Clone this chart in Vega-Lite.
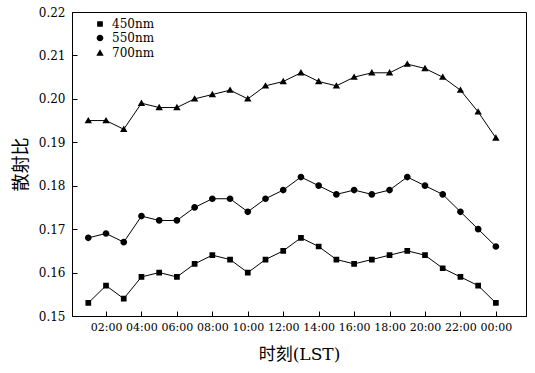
{
  "$schema": "https://vega.github.io/schema/vega-lite/v6.json",
  "width": 454,
  "height": 304,
  "autosize": "none",
  "padding": {"left": 72, "top": 12, "right": 9, "bottom": 57},
  "background": "white",
  "config": {
    "view": {"stroke": "black", "strokeWidth": 1},
    "axis": {
      "grid": false,
      "domainColor": "black",
      "tickColor": "black",
      "labelColor": "black",
      "titleColor": "black",
      "labelFont": "DejaVu Serif",
      "labelFontSize": 12,
      "labelOverlap": false,
      "tickSize": -5,
      "titleFontWeight": "normal",
      "titleFontSize": 18
    }
  },
  "data": {
    "values": [
      {"hour": 1, "band": "450nm", "ratio": 0.153}, {"hour": 2, "band": "450nm", "ratio": 0.157},
      {"hour": 3, "band": "450nm", "ratio": 0.154}, {"hour": 4, "band": "450nm", "ratio": 0.159},
      {"hour": 5, "band": "450nm", "ratio": 0.160}, {"hour": 6, "band": "450nm", "ratio": 0.159},
      {"hour": 7, "band": "450nm", "ratio": 0.162}, {"hour": 8, "band": "450nm", "ratio": 0.164},
      {"hour": 9, "band": "450nm", "ratio": 0.163}, {"hour": 10, "band": "450nm", "ratio": 0.160},
      {"hour": 11, "band": "450nm", "ratio": 0.163}, {"hour": 12, "band": "450nm", "ratio": 0.165},
      {"hour": 13, "band": "450nm", "ratio": 0.168}, {"hour": 14, "band": "450nm", "ratio": 0.166},
      {"hour": 15, "band": "450nm", "ratio": 0.163}, {"hour": 16, "band": "450nm", "ratio": 0.162},
      {"hour": 17, "band": "450nm", "ratio": 0.163}, {"hour": 18, "band": "450nm", "ratio": 0.164},
      {"hour": 19, "band": "450nm", "ratio": 0.165}, {"hour": 20, "band": "450nm", "ratio": 0.164},
      {"hour": 21, "band": "450nm", "ratio": 0.161}, {"hour": 22, "band": "450nm", "ratio": 0.159},
      {"hour": 23, "band": "450nm", "ratio": 0.157}, {"hour": 24, "band": "450nm", "ratio": 0.153},
      {"hour": 1, "band": "550nm", "ratio": 0.168}, {"hour": 2, "band": "550nm", "ratio": 0.169},
      {"hour": 3, "band": "550nm", "ratio": 0.167}, {"hour": 4, "band": "550nm", "ratio": 0.173},
      {"hour": 5, "band": "550nm", "ratio": 0.172}, {"hour": 6, "band": "550nm", "ratio": 0.172},
      {"hour": 7, "band": "550nm", "ratio": 0.175}, {"hour": 8, "band": "550nm", "ratio": 0.177},
      {"hour": 9, "band": "550nm", "ratio": 0.177}, {"hour": 10, "band": "550nm", "ratio": 0.174},
      {"hour": 11, "band": "550nm", "ratio": 0.177}, {"hour": 12, "band": "550nm", "ratio": 0.179},
      {"hour": 13, "band": "550nm", "ratio": 0.182}, {"hour": 14, "band": "550nm", "ratio": 0.180},
      {"hour": 15, "band": "550nm", "ratio": 0.178}, {"hour": 16, "band": "550nm", "ratio": 0.179},
      {"hour": 17, "band": "550nm", "ratio": 0.178}, {"hour": 18, "band": "550nm", "ratio": 0.179},
      {"hour": 19, "band": "550nm", "ratio": 0.182}, {"hour": 20, "band": "550nm", "ratio": 0.180},
      {"hour": 21, "band": "550nm", "ratio": 0.178}, {"hour": 22, "band": "550nm", "ratio": 0.174},
      {"hour": 23, "band": "550nm", "ratio": 0.170}, {"hour": 24, "band": "550nm", "ratio": 0.166},
      {"hour": 1, "band": "700nm", "ratio": 0.195}, {"hour": 2, "band": "700nm", "ratio": 0.195},
      {"hour": 3, "band": "700nm", "ratio": 0.193}, {"hour": 4, "band": "700nm", "ratio": 0.199},
      {"hour": 5, "band": "700nm", "ratio": 0.198}, {"hour": 6, "band": "700nm", "ratio": 0.198},
      {"hour": 7, "band": "700nm", "ratio": 0.200}, {"hour": 8, "band": "700nm", "ratio": 0.201},
      {"hour": 9, "band": "700nm", "ratio": 0.202}, {"hour": 10, "band": "700nm", "ratio": 0.200},
      {"hour": 11, "band": "700nm", "ratio": 0.203}, {"hour": 12, "band": "700nm", "ratio": 0.204},
      {"hour": 13, "band": "700nm", "ratio": 0.206}, {"hour": 14, "band": "700nm", "ratio": 0.204},
      {"hour": 15, "band": "700nm", "ratio": 0.203}, {"hour": 16, "band": "700nm", "ratio": 0.205},
      {"hour": 17, "band": "700nm", "ratio": 0.206}, {"hour": 18, "band": "700nm", "ratio": 0.206},
      {"hour": 19, "band": "700nm", "ratio": 0.208}, {"hour": 20, "band": "700nm", "ratio": 0.207},
      {"hour": 21, "band": "700nm", "ratio": 0.205}, {"hour": 22, "band": "700nm", "ratio": 0.202},
      {"hour": 23, "band": "700nm", "ratio": 0.197}, {"hour": 24, "band": "700nm", "ratio": 0.191}
    ]
  },
  "encoding": {
    "x": {
      "field": "hour",
      "type": "quantitative",
      "scale": {"domain": [0.08, 25.7], "nice": false, "zero": false},
      "axis": {
        "title": "时刻(LST)",
        "titleFont": "DejaVu Serif, Noto Sans CJK SC",
        "titleFontSize": 17,
        "titlePadding": 14,
        "labelFontSize": 11,
        "values": [2, 4, 6, 8, 10, 12, 14, 16, 18, 20, 22, 24],
        "labelExpr": "(datum.value % 24 < 10 ? '0' : '') + (datum.value % 24) + ':00'",
        "labelPadding": 10
      }
    },
    "y": {
      "field": "ratio",
      "type": "quantitative",
      "scale": {"domain": [0.15, 0.22], "nice": false, "zero": false},
      "axis": {
        "title": "散射比",
        "titleFont": "Noto Sans CJK SC",
        "titlePadding": 8,
        "values": [0.15, 0.16, 0.17, 0.18, 0.19, 0.20, 0.21, 0.22],
        "format": ".2f",
        "labelPadding": 12
      }
    }
  },
  "layer": [
    {
      "mark": {"type": "line", "color": "black", "strokeWidth": 1},
      "encoding": {"detail": {"field": "band", "type": "nominal"}}
    },
    {
      "mark": {"type": "point", "filled": true, "opacity": 1, "color": "black", "strokeWidth": 0, "size": 45},
      "encoding": {
        "shape": {
          "field": "band",
          "type": "nominal",
          "scale": {
            "domain": ["450nm", "550nm", "700nm"],
            "range": [
              "M-4,0H-1M-0.85,-0.85H0.85V0.85H-0.85Z",
              "M-4,0H-1M-1,0A1,1,0,1,0,1,0A1,1,0,1,0,-1,0Z",
              "M-4,0.35H-1M0,-1.1L1.1,0.8H-1.1Z"
            ]
          },
          "legend": {
            "title": null,
            "orient": "none",
            "legendX": 22,
            "legendY": 6,
            "padding": 0,
            "rowPadding": 1,
            "labelFont": "DejaVu Serif",
            "labelFontSize": 12,
            "labelColor": "black",
            "labelOffset": 6,
            "symbolSize": 45,
            "encode": {
              "symbols": {
                "fill": {"value": "black"},
                "stroke": {"value": "black"},
                "strokeWidth": {"value": 1},
                "opacity": {"value": 1}
              }
            }
          }
        }
      }
    }
  ]
}
